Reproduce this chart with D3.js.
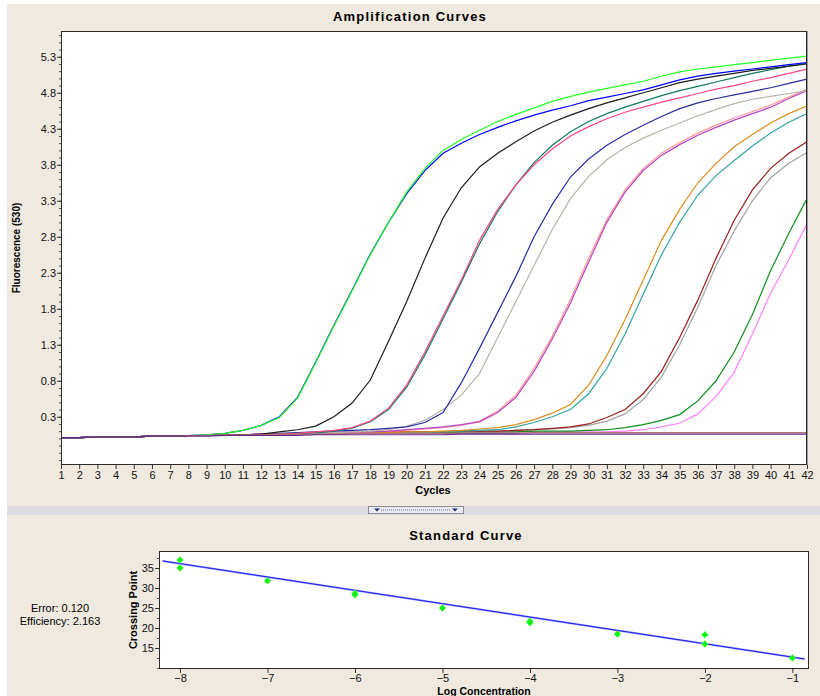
<!DOCTYPE html>
<html>
<head>
<meta charset="utf-8">
<script src="https://cdn.jsdelivr.net/npm/d3@7"></script>
<style>
  body { margin: 0; background: #fff; }
  text { font-family: "Liberation Sans", Arial, sans-serif; }
</style>
</head>
<body>
<div id="chart"></div>
<script>
// amplification curves, fluorescence (530) read per cycle 1..42
const cycles = d3.range(1, 43);
const yTickLabels = [0.3, 0.8, 1.3, 1.8, 2.3, 2.8, 3.3, 3.8, 4.3, 4.8, 5.3];

const greenCurve = [0.01,0.01,0.02,0.02,0.02,0.03,0.03,0.04,0.05,0.07,0.11,0.18,0.29,0.56,1.05,1.56,2.05,2.55,3.00,3.42,3.75,4.00,4.15,4.28,4.40,4.50,4.59,4.68,4.75,4.81,4.86,4.91,4.96,5.03,5.09,5.13,5.16,5.19,5.22,5.25,5.28,5.31];
const blueCurve = [0.01,0.01,0.02,0.02,0.02,0.03,0.03,0.04,0.05,0.07,0.11,0.18,0.30,0.57,1.06,1.57,2.06,2.56,3.00,3.40,3.72,3.96,4.10,4.22,4.32,4.41,4.49,4.56,4.62,4.69,4.74,4.79,4.84,4.91,4.98,5.03,5.07,5.10,5.13,5.16,5.19,5.22];
const blackCurve = [0.01,0.01,0.02,0.02,0.02,0.03,0.03,0.04,0.04,0.05,0.05,0.06,0.09,0.12,0.17,0.30,0.49,0.81,1.35,1.90,2.50,3.06,3.48,3.77,3.96,4.12,4.27,4.39,4.49,4.58,4.66,4.73,4.80,4.87,4.94,4.99,5.03,5.07,5.11,5.14,5.17,5.20];
const pinkCurve = [0.01,0.01,0.02,0.02,0.02,0.03,0.03,0.04,0.04,0.05,0.05,0.06,0.06,0.07,0.09,0.11,0.15,0.24,0.42,0.74,1.20,1.70,2.20,2.75,3.18,3.52,3.80,4.02,4.20,4.33,4.44,4.53,4.60,4.67,4.73,4.79,4.85,4.90,4.96,5.01,5.07,5.13];
const tealGreenCurve = [0.01,0.01,0.02,0.02,0.02,0.03,0.03,0.04,0.04,0.04,0.05,0.05,0.06,0.07,0.08,0.10,0.14,0.23,0.40,0.71,1.16,1.66,2.17,2.70,3.15,3.52,3.83,4.07,4.26,4.40,4.51,4.60,4.68,4.76,4.83,4.89,4.95,5.01,5.07,5.12,5.17,5.21];
const indigoCurve = [0.01,0.01,0.02,0.02,0.02,0.03,0.03,0.04,0.04,0.05,0.05,0.06,0.07,0.08,0.09,0.10,0.11,0.12,0.14,0.16,0.22,0.36,0.77,1.25,1.75,2.25,2.80,3.25,3.63,3.88,4.07,4.22,4.35,4.47,4.58,4.66,4.72,4.77,4.82,4.87,4.93,4.99];
const beigeCurve = [0.01,0.01,0.02,0.02,0.02,0.03,0.03,0.04,0.04,0.04,0.05,0.05,0.06,0.07,0.07,0.08,0.09,0.10,0.12,0.17,0.25,0.40,0.60,0.90,1.40,1.90,2.40,2.90,3.33,3.64,3.87,4.04,4.17,4.28,4.38,4.48,4.57,4.65,4.71,4.75,4.79,4.83];
const magentaCurve = [0.01,0.01,0.02,0.02,0.02,0.03,0.03,0.04,0.04,0.05,0.05,0.06,0.06,0.07,0.07,0.08,0.09,0.09,0.10,0.12,0.14,0.16,0.19,0.23,0.36,0.57,0.93,1.38,1.88,2.45,3.00,3.42,3.72,3.93,4.08,4.21,4.32,4.42,4.51,4.60,4.72,4.83];
const salmonCurve = [0.01,0.01,0.02,0.02,0.02,0.03,0.03,0.04,0.04,0.04,0.05,0.05,0.06,0.07,0.07,0.08,0.08,0.09,0.10,0.11,0.13,0.15,0.18,0.24,0.38,0.60,0.97,1.42,1.93,2.50,3.04,3.45,3.75,3.96,4.11,4.24,4.35,4.45,4.54,4.63,4.74,4.85];
const orangeCurve = [0.01,0.01,0.02,0.02,0.02,0.03,0.03,0.04,0.04,0.04,0.05,0.05,0.06,0.06,0.07,0.07,0.08,0.08,0.08,0.09,0.09,0.10,0.11,0.13,0.15,0.19,0.26,0.35,0.47,0.74,1.15,1.65,2.20,2.75,3.18,3.55,3.82,4.05,4.22,4.38,4.51,4.62];
const tealCurve = [0.01,0.01,0.02,0.02,0.02,0.03,0.03,0.04,0.04,0.04,0.05,0.05,0.05,0.06,0.06,0.07,0.07,0.07,0.08,0.08,0.08,0.09,0.10,0.11,0.12,0.16,0.22,0.30,0.40,0.62,0.97,1.45,2.00,2.55,3.00,3.38,3.65,3.86,4.06,4.24,4.39,4.51];
const darkRedCurve = [0.01,0.01,0.02,0.02,0.02,0.03,0.03,0.04,0.04,0.05,0.05,0.06,0.06,0.07,0.07,0.08,0.08,0.08,0.09,0.09,0.09,0.09,0.10,0.10,0.10,0.11,0.12,0.14,0.16,0.20,0.29,0.40,0.62,0.93,1.40,1.92,2.50,3.03,3.45,3.75,3.96,4.12];
const grayCurve = [0.01,0.01,0.02,0.02,0.02,0.03,0.03,0.04,0.04,0.04,0.05,0.05,0.06,0.06,0.07,0.07,0.08,0.08,0.08,0.09,0.09,0.09,0.10,0.10,0.10,0.11,0.12,0.13,0.15,0.18,0.24,0.34,0.54,0.85,1.30,1.82,2.40,2.88,3.30,3.62,3.82,3.97];
const darkGreenCurve = [0.01,0.01,0.02,0.02,0.02,0.03,0.03,0.04,0.04,0.04,0.05,0.05,0.06,0.06,0.06,0.07,0.07,0.07,0.08,0.08,0.08,0.08,0.09,0.09,0.09,0.09,0.10,0.10,0.10,0.11,0.12,0.15,0.19,0.25,0.33,0.52,0.80,1.20,1.72,2.33,2.85,3.33];
const lightMagentaCurve = [0.01,0.01,0.02,0.02,0.02,0.03,0.03,0.04,0.04,0.04,0.05,0.05,0.05,0.06,0.06,0.06,0.07,0.07,0.07,0.07,0.08,0.08,0.08,0.08,0.08,0.09,0.09,0.09,0.09,0.09,0.09,0.10,0.12,0.16,0.21,0.34,0.58,0.92,1.45,2.02,2.48,2.98];
// negative controls, stay flat
const purpleFlat = [0.01,0.01,0.02,0.02,0.02,0.03,0.03,0.03,0.03,0.04,0.04,0.04,0.04,0.04,0.05,0.05,0.05,0.05,0.05,0.05,0.05,0.05,0.06,0.06,0.06,0.06,0.06,0.06,0.06,0.06,0.06,0.06,0.06,0.06,0.06,0.06,0.06,0.06,0.06,0.06,0.06,0.06];
const redFlat = [0.01,0.01,0.02,0.02,0.02,0.03,0.03,0.04,0.04,0.05,0.05,0.05,0.06,0.06,0.06,0.06,0.07,0.07,0.07,0.07,0.07,0.07,0.07,0.07,0.07,0.07,0.08,0.08,0.08,0.08,0.08,0.08,0.08,0.08,0.08,0.08,0.08,0.08,0.08,0.08,0.08,0.08];

// standard curve
const stdLogConc = [-8, -8, -7, -6, -6, -5, -4, -4, -3, -2, -2, -1];
const stdCrossing = [37.0, 35.0, 31.8, 28.7, 28.3, 25.0, 21.7, 21.3, 18.5, 18.3, 16.0, 12.5];
const stdXTicks = [-8, -7, -6, -5, -4, -3, -2, -1];
const stdYTicks = [15, 20, 25, 30, 35];
const fitSlope = -3.34;
const fitIntercept = 9.38;
const fitRange = [-8.2, -0.86];
const errorValue = '0.120';
const efficiencyValue = '2.163';

const curves = [
  { values: lightMagentaCurve, color: '#ff80ff' },
  { values: darkGreenCurve, color: '#0f8f1f' },
  { values: grayCurve, color: '#a3a3a3' },
  { values: darkRedCurve, color: '#9b1c1c' },
  { values: tealCurve, color: '#35a4a4' },
  { values: orangeCurve, color: '#dd8c1c' },
  { values: salmonCurve, color: '#ff9a9a' },
  { values: magentaCurve, color: '#b645c4' },
  { values: beigeCurve, color: '#b5b5a8' },
  { values: indigoCurve, color: '#2b2ba3' },
  { values: tealGreenCurve, color: '#0e7a5c' },
  { values: pinkCurve, color: '#ff4585' },
  { values: blackCurve, color: '#1c1c1c' },
  { values: blueCurve, color: '#0000ff' },
  { values: greenCurve, color: '#22ff22' },
  { values: redFlat, color: '#b07070' },
  { values: purpleFlat, color: '#66248c' }
];

const W = 820, H = 696;
const amp = { x0: 61, x1: 807, y0: 31, y1: 465 };
const sc = { x0: 159, x1: 809, y0: 551, y1: 669 };

const svg = d3.select('#chart').append('svg')
    .attr('width', W)
    .attr('height', H);

svg.append('rect').attr('width', W).attr('height', H).attr('fill', '#fff');
svg.append('rect').attr('x', 7).attr('y', 4).attr('width', W - 7).attr('height', H - 4).attr('fill', '#efe9e0');

// ---------- amplification panel ----------
const x = d3.scaleLinear().domain([1, 42]).range([amp.x0, amp.x1]);
const y = d3.scaleLinear().domain([-0.37, 5.658]).range([amp.y1, amp.y0]);

svg.append('text')
  .attr('x', 410).attr('y', 21)
  .attr('text-anchor', 'middle')
  .style('font-size', '13px').style('font-weight', 'bold').style('letter-spacing', '1.2px')
  .text('Amplification Curves');

svg.append('rect')
  .attr('x', amp.x0).attr('y', amp.y0)
  .attr('width', amp.x1 - amp.x0).attr('height', amp.y1 - amp.y0)
  .attr('fill', '#fff');

svg.append('clipPath').attr('id', 'ampClip')
  .append('rect')
  .attr('x', amp.x0).attr('y', amp.y0)
  .attr('width', amp.x1 - amp.x0).attr('height', amp.y1 - amp.y0);

const line = d3.line()
    .x((d, i) => x(cycles[i]))
    .y(d => y(d));

svg.append('g')
    .attr('clip-path', 'url(#ampClip)')
  .selectAll('path')
  .data(curves)
  .join('path')
    .attr('fill', 'none')
    .attr('stroke', d => d.color)
    .attr('stroke-width', 1.2)
    .attr('d', d => line(d.values));

// minor y ticks
svg.append('g')
    .attr('transform', `translate(${amp.x0},0)`)
    .call(d3.axisLeft(y).tickValues(d3.range(-0.3, 5.65, 0.1)).tickSize(2).tickFormat(''))
    .call(g => g.select('.domain').remove())
    .call(g => g.selectAll('line').attr('stroke', '#555'));

svg.append('g')
    .attr('transform', `translate(${amp.x0},0)`)
    .call(d3.axisLeft(y).tickValues(yTickLabels).tickSize(4).tickPadding(1).tickFormat(d3.format('.1f')))
    .call(g => g.select('.domain').remove())
    .call(g => g.selectAll('line').attr('stroke', '#333'))
    .call(g => g.selectAll('text').style('font-size', '11px').attr('fill', '#111'));

svg.append('g')
    .attr('transform', `translate(0,${amp.y1})`)
    .call(d3.axisBottom(x).tickValues(cycles).tickSize(4).tickPadding(2).tickFormat(d3.format('d')))
    .call(g => g.select('.domain').remove())
    .call(g => g.selectAll('line').attr('stroke', '#333'))
    .call(g => g.selectAll('text').style('font-size', '11px').attr('fill', '#111'));

svg.append('rect')
  .attr('x', amp.x0 + 0.5).attr('y', amp.y0 + 0.5)
  .attr('width', amp.x1 - amp.x0 - 1).attr('height', amp.y1 - amp.y0 - 1)
  .attr('fill', 'none').attr('stroke', '#2a2a2a');
svg.append('line')
  .attr('x1', amp.x1 + 0.5).attr('x2', amp.x1 + 0.5)
  .attr('y1', amp.y0).attr('y2', amp.y1)
  .attr('stroke', '#9a9a9a');

svg.append('text')
  .attr('transform', `translate(20,${(amp.y0 + amp.y1) / 2}) rotate(-90)`)
  .attr('text-anchor', 'middle')
  .style('font-size', '10px').style('font-weight', 'bold')
  .text('Fluorescence (530)');

svg.append('text')
  .attr('x', 433).attr('y', 494)
  .attr('text-anchor', 'middle')
  .style('font-size', '11px').style('font-weight', 'bold')
  .text('Cycles');

// ---------- splitter bar ----------
svg.append('rect').attr('x', 7).attr('y', 506).attr('width', W - 7).attr('height', 9).attr('fill', '#dcdce2');
svg.append('rect').attr('x', 368.5).attr('y', 506.5).attr('width', 95).attr('height', 7)
  .attr('fill', '#ececf0').attr('stroke', '#8c8c96');
svg.append('line').attr('x1', 381).attr('x2', 451).attr('y1', 510).attr('y2', 510)
  .attr('stroke', '#5a64a0').attr('stroke-dasharray', '1,1');
[377, 455].forEach(cx => {
  svg.append('path')
    .attr('d', `M${cx - 3},508.5 L${cx + 3},508.5 L${cx},511.5 Z`)
    .attr('fill', '#1a2a80');
});

// ---------- standard curve panel ----------
const sx = d3.scaleLinear().domain([-8.24, -0.81]).range([sc.x0, sc.x1]);
const sy = d3.scaleLinear().domain([9.75, 39.25]).range([sc.y1, sc.y0]);

svg.append('text')
  .attr('x', 466).attr('y', 540)
  .attr('text-anchor', 'middle')
  .style('font-size', '13px').style('font-weight', 'bold').style('letter-spacing', '1.2px')
  .text('Standard Curve');

svg.append('rect')
  .attr('x', sc.x0).attr('y', sc.y0)
  .attr('width', sc.x1 - sc.x0).attr('height', sc.y1 - sc.y0)
  .attr('fill', '#fff');

svg.append('g')
    .attr('transform', `translate(${sc.x0},0)`)
    .call(d3.axisLeft(sy).tickValues(d3.range(10, 39, 2.5)).tickSize(2).tickFormat(''))
    .call(g => g.select('.domain').remove())
    .call(g => g.selectAll('line').attr('stroke', '#555'));

svg.append('g')
    .attr('transform', `translate(${sc.x0},0)`)
    .call(d3.axisLeft(sy).tickValues(stdYTicks).tickSize(4).tickPadding(1))
    .call(g => g.select('.domain').remove())
    .call(g => g.selectAll('line').attr('stroke', '#333'))
    .call(g => g.selectAll('text').style('font-size', '11px').attr('fill', '#111'));

svg.append('g')
    .attr('transform', `translate(0,${sc.y1})`)
    .call(d3.axisBottom(sx).tickValues(stdXTicks).tickSize(4).tickPadding(1).tickFormat(d3.format('d')))
    .call(g => g.select('.domain').remove())
    .call(g => g.selectAll('line').attr('stroke', '#333'))
    .call(g => g.selectAll('text').style('font-size', '11px').attr('fill', '#111'));

svg.append('rect')
  .attr('x', sc.x0 + 0.5).attr('y', sc.y0 + 0.5)
  .attr('width', sc.x1 - sc.x0 - 1).attr('height', sc.y1 - sc.y0 - 1)
  .attr('fill', 'none').attr('stroke', '#2a2a2a');

svg.append('line')
  .attr('x1', sx(fitRange[0])).attr('y1', sy(fitIntercept + fitSlope * fitRange[0]))
  .attr('x2', sx(fitRange[1])).attr('y2', sy(fitIntercept + fitSlope * fitRange[1]))
  .attr('stroke', '#9a9aff').attr('stroke-width', 2);
svg.append('line')
  .attr('x1', sx(fitRange[0])).attr('y1', sy(fitIntercept + fitSlope * fitRange[0]))
  .attr('x2', sx(fitRange[1])).attr('y2', sy(fitIntercept + fitSlope * fitRange[1]))
  .attr('stroke', '#1010ee').attr('stroke-width', 0.9);

svg.append('g')
  .selectAll('path')
  .data(stdLogConc.map((d, i) => [d, stdCrossing[i]]))
  .join('path')
    .attr('transform', d => `translate(${sx(d[0])},${sy(d[1])})`)
    .attr('d', d3.symbol(d3.symbolDiamond2, 30))
    .attr('fill', '#10f010')
    .attr('stroke', '#60ff60')
    .attr('stroke-width', 0.6);

svg.append('text')
  .attr('transform', `translate(137,${(sc.y0 + sc.y1) / 2}) rotate(-90)`)
  .attr('text-anchor', 'middle')
  .style('font-size', '11px').style('font-weight', 'bold')
  .text('Crossing Point');

svg.append('text')
  .attr('x', (sc.x0 + sc.x1) / 2).attr('y', 695)
  .attr('text-anchor', 'middle')
  .style('font-size', '10.5px').style('font-weight', 'bold')
  .text('Log Concentration');

svg.append('text')
  .attr('x', 60).attr('y', 612)
  .attr('text-anchor', 'middle')
  .style('font-size', '11px')
  .text('Error: ' + errorValue);
svg.append('text')
  .attr('x', 60).attr('y', 625)
  .attr('text-anchor', 'middle')
  .style('font-size', '11px')
  .text('Efficiency: ' + efficiencyValue);
</script>
</body>
</html>
